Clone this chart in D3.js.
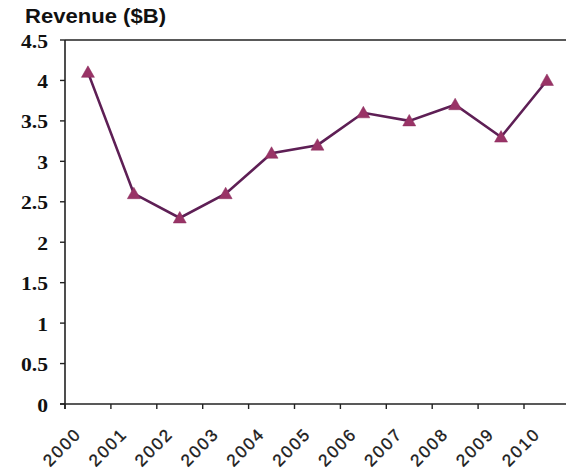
<!DOCTYPE html>
<html>
<head>
<meta charset="utf-8">
<script src="https://cdn.jsdelivr.net/npm/d3@7"></script>
<style>
  html, body { margin: 0; padding: 0; background: #fff; }
  svg { display: block; }
</style>
</head>
<body>
<svg id="chart" width="566" height="474"></svg>
<script>
const years = ["2000","2001","2002","2003","2004","2005","2006","2007","2008","2009","2010"];
const revenue = [4.1, 2.6, 2.3, 2.6, 3.1, 3.2, 3.6, 3.5, 3.7, 3.3, 4.0];
const yTicks = [0, 0.5, 1, 1.5, 2, 2.5, 3, 3.5, 4, 4.5];
const yTickLabels = ["0", "0.5", "1", "1.5", "2", "2.5", "3", "3.5", "4", "4.5"];
const title = "Revenue ($B)";

(function () {
const svg = d3.select("#chart");
const mLeft = 65, mTop = 40, mBottom = 404, band = 45.9;
const mRight = mLeft + band * years.length;

const x = d3.scaleBand().domain(years).range([mLeft, mRight]).padding(0);
const y = d3.scaleLinear().domain([0, 4.5]).range([mBottom, mTop]);

// title
svg.append("text")
  .attr("x", 25).attr("y", 23)
  .attr("font-family", "Liberation Sans, Arial, sans-serif")
  .attr("font-weight", "bold")
  .attr("font-size", 20)
  .attr("textLength", 141)
  .attr("lengthAdjust", "spacingAndGlyphs")
  .attr("fill", "#111")
  .text(title);

// top border
svg.append("line")
  .attr("x1", mLeft).attr("x2", 566)
  .attr("y1", y(4.5)).attr("y2", y(4.5))
  .attr("stroke", "#222").attr("stroke-width", 1.6);

// y axis
svg.append("line")
  .attr("x1", mLeft).attr("x2", mLeft)
  .attr("y1", y(4.5)).attr("y2", y(0) + 5)
  .attr("stroke", "#222").attr("stroke-width", 1.6);

const yg = svg.append("g");
yTicks.forEach((t, i) => {
  yg.append("line")
    .attr("x1", mLeft - 5).attr("x2", mLeft)
    .attr("y1", y(t)).attr("y2", y(t))
    .attr("stroke", "#222").attr("stroke-width", 1.4);
  yg.append("text")
    .attr("transform", `translate(48,${y(t) + 7.5}) scale(1.2,1)`)
    .attr("text-anchor", "end")
    .attr("font-family", "Liberation Serif, Times New Roman, serif")
    .attr("font-weight", "bold")
    .attr("font-size", 18)
    .attr("fill", "#111")
    .text(yTickLabels[i]);
});

// x axis
svg.append("line")
  .attr("x1", mLeft - 5).attr("x2", 566)
  .attr("y1", y(0)).attr("y2", y(0))
  .attr("stroke", "#222").attr("stroke-width", 1.6);

const xg = svg.append("g");
years.forEach(yr => {
  xg.append("line")
    .attr("x1", x(yr)).attr("x2", x(yr))
    .attr("y1", y(0)).attr("y2", y(0) + 5)
    .attr("stroke", "#222").attr("stroke-width", 1.4);
  const cx = x(yr) + x.bandwidth() / 2;
  xg.append("text")
    .attr("transform", `translate(${cx - 5.6},${y(0) + 31}) rotate(-45)`)
    .attr("text-anchor", "end")
    .attr("font-family", "Liberation Sans, Arial, sans-serif")
    .attr("font-size", 17)
    .attr("letter-spacing", 2)
    .attr("fill", "#1a1a1a")
    .attr("stroke", "#1a1a1a")
    .attr("stroke-width", 0.35)
    .text(yr);
});

// line
const pts = years.map((yr, i) => [x(yr) + x.bandwidth() / 2, y(revenue[i])]);
svg.append("path")
  .attr("d", d3.line()(pts))
  .attr("fill", "none")
  .attr("stroke", "#5e1f55")
  .attr("stroke-width", 2.6);

// markers
svg.append("g").selectAll("path")
  .data(pts)
  .join("path")
  .attr("transform", d => `translate(${d[0]},${d[1]})`)
  .attr("d", "M0,-6.5L6.5,5L-6.5,5Z")
  .attr("fill", "#993366")
  .attr("stroke", "#8a2d5c")
  .attr("stroke-width", 0.5);
})();
</script>
</body>
</html>
